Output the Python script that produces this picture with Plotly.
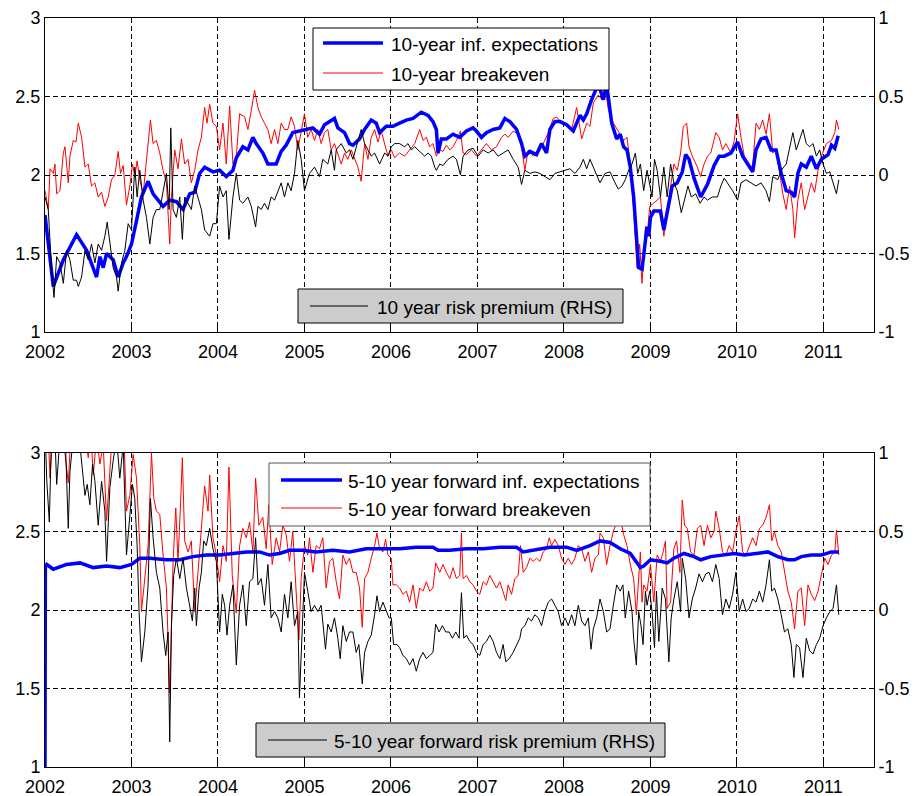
import plotly.graph_objects as go

# ---------------- data (decimal years, values) ----------------
# Top panel: 10-year measures
top_exp_t = [2002.000,2002.096,2002.212,2002.365,2002.481,2002.538,2002.596,2002.635,2002.673,2002.712,2002.788,2002.846,2002.904,2002.942,2003.000,2003.058,2003.115,2003.192,2003.250,2003.365,2003.442,2003.519,2003.596,2003.673,2003.731,2003.788,2003.846,2003.942,2004.019,2004.096,2004.173,2004.212,2004.288,2004.346,2004.404,2004.442,2004.519,2004.577,2004.673,2004.731,2004.788,2004.865,2004.942,2005.000,2005.097,2005.174,2005.232,2005.347,2005.386,2005.463,2005.521,2005.560,2005.637,2005.695,2005.772,2005.830,2005.869,2005.946,2006.023,2006.100,2006.178,2006.255,2006.351,2006.429,2006.486,2006.525,2006.544,2006.583,2006.641,2006.718,2006.795,2006.873,2006.950,2006.988,2007.046,2007.104,2007.181,2007.259,2007.317,2007.375,2007.452,2007.510,2007.548,2007.606,2007.683,2007.741,2007.799,2007.838,2007.896,2007.954,2008.031,2008.108,2008.185,2008.224,2008.263,2008.320,2008.398,2008.456,2008.494,2008.552,2008.610,2008.651,2008.690,2008.729,2008.767,2008.806,2008.845,2008.864,2008.903,2008.922,2008.961,2008.981,2009.000,2009.039,2009.116,2009.155,2009.194,2009.252,2009.310,2009.368,2009.407,2009.446,2009.504,2009.581,2009.659,2009.736,2009.795,2009.853,2009.930,2010.008,2010.066,2010.124,2010.182,2010.221,2010.279,2010.337,2010.395,2010.453,2010.512,2010.570,2010.628,2010.667,2010.705,2010.744,2010.802,2010.860,2010.919,2010.977,2011.054,2011.093,2011.132,2011.171]
top_exp_v = [1.745,1.29,1.46,1.62,1.52,1.44,1.35,1.48,1.41,1.50,1.46,1.35,1.44,1.48,1.56,1.71,1.86,1.96,1.88,1.80,1.84,1.83,1.78,1.88,1.89,2.01,2.05,2.02,2.03,1.99,2.03,2.11,2.18,2.16,2.24,2.20,2.14,2.07,2.07,2.15,2.19,2.27,2.28,2.29,2.30,2.26,2.32,2.36,2.30,2.27,2.20,2.19,2.23,2.29,2.35,2.33,2.27,2.31,2.31,2.33,2.35,2.36,2.40,2.38,2.34,2.29,2.14,2.23,2.23,2.26,2.24,2.28,2.30,2.28,2.24,2.27,2.29,2.30,2.36,2.34,2.29,2.20,2.12,2.15,2.13,2.20,2.14,2.29,2.34,2.34,2.32,2.28,2.38,2.35,2.39,2.48,2.58,2.48,2.58,2.33,2.23,2.26,2.18,2.16,2.05,1.86,1.56,1.41,1.40,1.48,1.67,1.61,1.73,1.77,1.77,1.65,1.76,1.93,1.95,2.02,2.13,2.10,1.98,1.86,1.94,2.06,2.12,2.12,2.14,2.21,2.12,2.07,2.02,2.16,2.23,2.24,2.16,2.16,2.01,1.90,1.89,1.86,2.01,2.07,2.05,2.12,2.04,2.10,2.13,2.19,2.17,2.25]

top_be_t = [2002.000,2002.038,2002.058,2002.096,2002.115,2002.135,2002.173,2002.212,2002.231,2002.269,2002.288,2002.327,2002.358,2002.385,2002.423,2002.462,2002.500,2002.538,2002.577,2002.615,2002.654,2002.692,2002.731,2002.769,2002.808,2002.846,2002.873,2002.904,2002.942,2002.981,2003.012,2003.038,2003.065,2003.096,2003.135,2003.173,2003.219,2003.250,2003.288,2003.327,2003.365,2003.404,2003.442,2003.462,2003.500,2003.538,2003.577,2003.615,2003.654,2003.692,2003.731,2003.769,2003.808,2003.846,2003.873,2003.904,2003.942,2003.981,2004.019,2004.058,2004.096,2004.135,2004.173,2004.212,2004.250,2004.308,2004.346,2004.385,2004.423,2004.462,2004.500,2004.538,2004.577,2004.615,2004.654,2004.692,2004.731,2004.769,2004.808,2004.846,2004.885,2004.923,2004.962,2005.000,2005.038,2005.077,2005.116,2005.154,2005.193,2005.232,2005.270,2005.309,2005.347,2005.386,2005.425,2005.463,2005.502,2005.541,2005.579,2005.618,2005.656,2005.695,2005.734,2005.772,2005.811,2005.849,2005.888,2005.927,2005.965,2006.004,2006.042,2006.100,2006.158,2006.216,2006.274,2006.332,2006.371,2006.409,2006.448,2006.486,2006.525,2006.564,2006.602,2006.641,2006.680,2006.718,2006.757,2006.803,2006.834,2006.873,2006.931,2006.988,2007.046,2007.104,2007.162,2007.220,2007.278,2007.317,2007.355,2007.413,2007.471,2007.510,2007.548,2007.587,2007.645,2007.703,2007.761,2007.819,2007.876,2007.915,2007.973,2008.031,2008.089,2008.147,2008.205,2008.263,2008.301,2008.340,2008.398,2008.436,2008.475,2008.516,2008.574,2008.632,2008.690,2008.729,2008.767,2008.806,2008.845,2008.876,2008.903,2008.942,2008.961,2008.992,2009.039,2009.078,2009.116,2009.155,2009.194,2009.233,2009.271,2009.310,2009.349,2009.380,2009.419,2009.446,2009.484,2009.543,2009.581,2009.620,2009.659,2009.698,2009.756,2009.795,2009.833,2009.872,2009.930,2009.969,2010.008,2010.047,2010.085,2010.143,2010.182,2010.221,2010.260,2010.298,2010.337,2010.376,2010.415,2010.453,2010.492,2010.531,2010.570,2010.609,2010.647,2010.667,2010.705,2010.744,2010.783,2010.822,2010.860,2010.899,2010.938,2010.977,2011.035,2011.093,2011.132,2011.151,2011.178]
top_be_v = [1.90,1.78,2.04,2.01,2.07,1.88,1.90,2.14,2.18,1.95,2.12,2.22,2.21,2.33,2.24,2.05,2.07,1.93,1.95,1.86,1.89,1.80,1.86,1.97,2.00,2.15,2.01,2.06,1.81,1.93,2.07,1.99,2.09,1.97,1.88,2.10,2.35,2.20,2.22,2.14,2.03,1.95,1.56,1.86,2.16,2.04,2.23,2.07,2.10,1.95,2.03,2.16,2.24,2.43,2.33,2.45,2.33,2.31,2.16,2.33,2.07,2.44,2.07,2.12,2.39,2.37,2.29,2.41,2.54,2.43,2.37,2.33,2.29,2.20,2.29,2.20,2.33,2.29,2.29,2.37,2.31,2.16,2.27,2.39,2.24,2.29,2.22,2.29,2.20,2.27,2.29,2.16,2.20,2.14,2.07,2.14,2.10,2.16,2.11,2.05,1.96,2.20,2.10,2.24,2.29,2.21,2.28,2.20,2.12,2.16,2.11,2.14,2.12,2.16,2.20,2.29,2.22,2.24,2.18,2.20,2.12,2.16,2.15,2.19,2.16,2.18,2.22,2.28,2.14,2.13,2.16,2.12,2.16,2.20,2.16,2.18,2.24,2.26,2.24,2.28,2.26,2.18,2.03,2.16,2.12,2.14,2.20,2.27,2.36,2.37,2.33,2.32,2.29,2.43,2.23,2.33,2.31,2.46,2.51,2.48,2.56,2.41,2.33,2.27,2.22,2.24,2.07,1.78,1.41,1.56,1.31,1.67,1.61,1.80,1.82,1.84,1.86,1.61,1.78,1.93,2.07,2.03,2.14,2.31,2.33,2.18,2.12,2.05,1.99,2.07,2.12,2.14,2.27,2.24,2.16,2.20,2.14,2.22,2.39,2.24,2.12,2.07,2.05,2.33,2.29,2.35,2.26,2.39,2.14,2.16,2.03,1.88,1.78,1.93,1.78,1.60,1.84,1.95,1.78,1.86,1.95,1.89,2.03,2.12,2.20,2.22,2.27,2.35,2.29]

top_rp_t = [2002.000,2002.038,2002.077,2002.104,2002.135,2002.173,2002.212,2002.250,2002.288,2002.327,2002.365,2002.385,2002.423,2002.462,2002.500,2002.538,2002.577,2002.615,2002.654,2002.692,2002.719,2002.750,2002.788,2002.827,2002.846,2002.885,2002.923,2002.962,2003.000,2003.038,2003.065,2003.096,2003.135,2003.173,2003.212,2003.250,2003.288,2003.327,2003.365,2003.404,2003.435,2003.454,2003.481,2003.519,2003.558,2003.588,2003.615,2003.654,2003.692,2003.731,2003.769,2003.808,2003.846,2003.904,2003.942,2003.981,2004.019,2004.058,2004.096,2004.127,2004.173,2004.212,2004.250,2004.288,2004.346,2004.385,2004.435,2004.462,2004.500,2004.538,2004.577,2004.615,2004.654,2004.692,2004.731,2004.769,2004.808,2004.846,2004.885,2004.923,2004.962,2005.000,2005.058,2005.116,2005.174,2005.212,2005.270,2005.309,2005.347,2005.367,2005.425,2005.483,2005.521,2005.560,2005.598,2005.656,2005.695,2005.734,2005.772,2005.811,2005.869,2005.927,2005.965,2006.004,2006.042,2006.100,2006.158,2006.197,2006.236,2006.274,2006.313,2006.351,2006.390,2006.429,2006.467,2006.506,2006.525,2006.564,2006.602,2006.660,2006.718,2006.757,2006.803,2006.834,2006.892,2006.950,2007.008,2007.066,2007.124,2007.181,2007.239,2007.297,2007.355,2007.413,2007.471,2007.510,2007.548,2007.606,2007.664,2007.722,2007.780,2007.838,2007.896,2007.954,2008.012,2008.069,2008.127,2008.185,2008.224,2008.263,2008.301,2008.359,2008.417,2008.475,2008.533,2008.591,2008.629,2008.671,2008.709,2008.748,2008.787,2008.826,2008.853,2008.884,2008.922,2008.961,2008.992,2009.019,2009.047,2009.078,2009.116,2009.155,2009.194,2009.233,2009.271,2009.310,2009.357,2009.395,2009.434,2009.473,2009.523,2009.574,2009.620,2009.659,2009.717,2009.775,2009.814,2009.853,2009.911,2009.950,2010.008,2010.047,2010.105,2010.163,2010.221,2010.279,2010.337,2010.376,2010.415,2010.473,2010.512,2010.570,2010.609,2010.647,2010.686,2010.725,2010.764,2010.802,2010.841,2010.880,2010.919,2010.957,2010.996,2011.035,2011.074,2011.112,2011.151,2011.178]
top_rp_v = [-0.14,-0.22,-0.61,-0.78,-0.52,-0.56,-0.69,-0.48,-0.54,-0.67,-0.67,-0.71,-0.65,-0.48,-0.54,-0.44,-0.56,-0.44,-0.48,-0.39,-0.30,-0.44,-0.59,-0.65,-0.74,-0.56,-0.48,-0.31,-0.35,0.05,-0.14,0.03,-0.16,-0.27,-0.44,-0.27,-0.22,-0.22,-0.10,0.01,-0.22,0.30,-0.22,-0.27,-0.14,-0.41,-0.14,-0.18,-0.22,-0.07,-0.14,-0.22,-0.35,-0.39,-0.31,-0.31,-0.07,-0.14,-0.10,-0.41,-0.14,0.01,-0.16,-0.18,-0.14,-0.20,-0.33,-0.20,-0.22,-0.18,-0.22,-0.14,-0.16,-0.10,-0.05,-0.14,-0.05,-0.10,0.01,0.22,0.10,-0.10,0.01,0.05,-0.01,0.10,0.07,0.16,0.03,0.16,0.20,0.14,0.16,0.10,0.18,0.29,0.20,0.16,0.12,0.14,0.07,0.14,0.12,0.18,0.20,0.20,0.18,0.20,0.16,0.18,0.16,0.14,0.12,0.14,0.12,0.05,0.03,0.07,0.06,0.10,0.12,0.10,0.00,0.12,0.16,0.17,0.12,0.16,0.14,0.16,0.12,0.14,0.16,0.10,0.05,-0.06,0.03,0.01,0.02,0.01,-0.01,-0.03,0.01,0.02,0.03,0.04,0.01,0.05,0.10,0.04,0.10,0.03,-0.05,0.01,0.02,-0.05,-0.09,-0.07,-0.03,0.03,0.07,0.14,0.01,0.07,-0.10,0.03,-0.05,-0.14,0.10,0.03,-0.14,0.05,-0.14,0.07,-0.05,-0.10,-0.24,-0.16,-0.07,-0.14,-0.12,-0.18,-0.14,-0.16,-0.14,-0.14,-0.07,-0.02,-0.07,-0.10,-0.16,-0.05,-0.03,-0.05,-0.07,-0.05,-0.10,-0.17,-0.01,-0.03,0.03,0.07,0.18,0.27,0.16,0.23,0.29,0.20,0.18,0.20,0.12,0.16,0.07,0.01,0.02,-0.05,-0.12,-0.03]

# Bottom panel: 5-10 year forward measures
fwd_exp_t = [2002.000,2002.004,2002.019,2002.096,2002.250,2002.404,2002.558,2002.712,2002.865,2003.000,2003.096,2003.212,2003.404,2003.558,2003.712,2003.865,2004.019,2004.173,2004.327,2004.481,2004.596,2004.712,2004.827,2004.981,2005.135,2005.328,2005.521,2005.714,2005.907,2006.100,2006.293,2006.486,2006.544,2006.680,2006.873,2007.066,2007.259,2007.452,2007.529,2007.645,2007.838,2008.031,2008.147,2008.301,2008.417,2008.533,2008.651,2008.767,2008.845,2008.884,2008.922,2009.000,2009.116,2009.194,2009.271,2009.388,2009.504,2009.581,2009.698,2009.814,2009.969,2010.085,2010.240,2010.357,2010.473,2010.589,2010.667,2010.744,2010.860,2010.977,2011.093,2011.178]
fwd_exp_v = [1.00,2.28,2.29,2.26,2.29,2.30,2.27,2.28,2.27,2.29,2.33,2.33,2.32,2.32,2.34,2.35,2.35,2.36,2.37,2.37,2.35,2.36,2.38,2.38,2.37,2.38,2.37,2.39,2.39,2.39,2.40,2.40,2.38,2.38,2.39,2.39,2.40,2.40,2.37,2.38,2.40,2.40,2.38,2.41,2.44,2.43,2.39,2.36,2.30,2.27,2.28,2.32,2.31,2.30,2.33,2.36,2.34,2.32,2.34,2.35,2.36,2.35,2.36,2.37,2.34,2.32,2.32,2.34,2.35,2.35,2.37,2.37]

fwd_be_t = [2002.000,2002.038,2002.058,2002.096,2002.180,2002.269,2002.308,2002.420,2002.500,2002.527,2002.558,2002.596,2002.635,2002.673,2002.712,2002.750,2002.788,2002.904,2002.942,2002.981,2003.019,2003.058,2003.096,2003.115,2003.154,2003.192,2003.231,2003.258,2003.288,2003.327,2003.365,2003.404,2003.442,2003.481,2003.512,2003.538,2003.565,2003.588,2003.615,2003.654,2003.692,2003.731,2003.769,2003.808,2003.846,2003.885,2003.904,2003.942,2003.981,2004.019,2004.058,2004.096,2004.127,2004.165,2004.212,2004.250,2004.288,2004.327,2004.365,2004.404,2004.435,2004.473,2004.519,2004.558,2004.588,2004.627,2004.673,2004.712,2004.750,2004.788,2004.827,2004.865,2004.904,2004.935,2004.962,2005.000,2005.038,2005.058,2005.097,2005.135,2005.174,2005.212,2005.251,2005.290,2005.328,2005.367,2005.405,2005.444,2005.483,2005.521,2005.560,2005.598,2005.637,2005.668,2005.695,2005.734,2005.772,2005.811,2005.838,2005.869,2005.907,2005.938,2005.965,2006.004,2006.023,2006.062,2006.100,2006.139,2006.178,2006.216,2006.255,2006.293,2006.332,2006.371,2006.409,2006.448,2006.486,2006.517,2006.564,2006.602,2006.641,2006.680,2006.718,2006.757,2006.795,2006.815,2006.834,2006.873,2006.911,2006.950,2006.988,2007.027,2007.066,2007.104,2007.143,2007.181,2007.220,2007.259,2007.297,2007.328,2007.355,2007.394,2007.432,2007.471,2007.498,2007.529,2007.568,2007.606,2007.645,2007.683,2007.722,2007.761,2007.799,2007.830,2007.857,2007.896,2007.934,2007.973,2008.012,2008.050,2008.089,2008.127,2008.166,2008.205,2008.243,2008.282,2008.320,2008.359,2008.398,2008.417,2008.456,2008.494,2008.533,2008.571,2008.610,2008.641,2008.690,2008.729,2008.767,2008.806,2008.837,2008.864,2008.884,2008.903,2008.922,2008.961,2009.000,2009.039,2009.078,2009.116,2009.147,2009.174,2009.194,2009.233,2009.271,2009.302,2009.341,2009.368,2009.395,2009.426,2009.465,2009.504,2009.543,2009.581,2009.620,2009.659,2009.698,2009.736,2009.756,2009.795,2009.833,2009.872,2009.911,2009.950,2009.988,2010.027,2010.066,2010.105,2010.143,2010.182,2010.221,2010.260,2010.298,2010.337,2010.376,2010.403,2010.434,2010.473,2010.512,2010.550,2010.589,2010.628,2010.667,2010.705,2010.744,2010.783,2010.822,2010.860,2010.899,2010.938,2010.977,2011.016,2011.054,2011.093,2011.132,2011.151,2011.178]
fwd_be_v = [3.20,3.10,2.84,3.20,3.25,2.81,3.20,3.30,2.97,3.15,2.86,3.10,2.93,3.05,2.57,2.86,3.20,3.25,2.63,2.73,2.99,2.84,2.41,1.99,2.20,2.41,3.00,2.71,2.63,2.61,2.35,2.14,1.47,2.31,2.65,2.31,2.65,2.97,2.44,2.37,2.44,1.99,2.24,2.52,2.79,2.63,2.86,2.46,2.35,2.18,2.41,2.31,2.91,2.22,1.98,2.41,2.52,2.46,2.56,2.37,2.84,2.54,2.59,2.39,2.67,2.29,2.46,2.37,2.54,2.48,2.31,2.50,2.10,1.81,2.20,2.41,2.35,2.46,2.24,2.41,2.39,2.46,2.14,2.31,2.33,2.18,2.07,2.35,2.29,2.33,2.24,2.24,2.14,1.89,2.20,2.24,2.33,2.41,2.49,2.39,2.37,2.45,2.35,2.33,2.16,2.16,2.14,2.10,2.12,2.05,2.16,2.01,2.14,2.12,2.18,2.12,2.14,2.30,2.24,2.29,2.24,2.20,2.27,2.20,2.22,2.49,2.20,2.22,2.18,2.16,2.12,2.10,2.18,2.16,2.22,2.18,2.14,2.18,2.12,2.06,2.16,2.10,2.20,2.22,2.41,2.24,2.27,2.33,2.31,2.33,2.31,2.37,2.39,2.46,2.41,2.45,2.41,2.33,2.29,2.33,2.29,2.33,2.41,2.39,2.31,2.37,2.24,2.33,2.35,2.49,2.46,2.29,2.41,2.50,2.56,2.62,2.48,2.41,2.29,2.20,1.97,2.24,2.37,2.05,2.16,2.12,2.29,2.05,2.35,2.31,2.37,2.44,2.01,2.05,2.39,2.44,2.24,2.70,2.54,2.52,2.37,2.35,2.52,2.54,2.41,2.54,2.46,2.50,2.63,2.52,2.37,2.35,2.41,2.37,2.50,2.60,2.37,2.35,2.41,2.46,2.41,2.52,2.54,2.59,2.67,2.44,2.50,2.41,2.37,2.24,2.12,2.05,1.88,2.12,2.14,1.90,2.16,2.10,2.06,2.12,2.22,2.33,2.29,2.35,2.37,2.51,2.35]

fwd_rp_t = [2002.000,2002.019,2002.050,2002.077,2002.115,2002.135,2002.173,2002.231,2002.269,2002.288,2002.327,2002.404,2002.462,2002.488,2002.519,2002.550,2002.577,2002.615,2002.654,2002.692,2002.712,2002.750,2002.788,2002.827,2002.865,2002.904,2002.942,2002.981,2003.012,2003.038,2003.065,2003.088,2003.115,2003.154,2003.192,2003.219,2003.250,2003.288,2003.327,2003.365,2003.396,2003.423,2003.442,2003.462,2003.488,2003.519,2003.558,2003.596,2003.635,2003.665,2003.704,2003.731,2003.750,2003.781,2003.808,2003.835,2003.865,2003.904,2003.942,2003.981,2004.019,2004.050,2004.077,2004.104,2004.135,2004.173,2004.212,2004.250,2004.288,2004.327,2004.365,2004.404,2004.435,2004.462,2004.500,2004.538,2004.577,2004.615,2004.654,2004.692,2004.731,2004.769,2004.808,2004.846,2004.885,2004.923,2004.942,2004.973,2005.000,2005.038,2005.077,2005.116,2005.154,2005.193,2005.220,2005.243,2005.270,2005.309,2005.347,2005.386,2005.413,2005.444,2005.483,2005.521,2005.560,2005.598,2005.629,2005.668,2005.695,2005.734,2005.772,2005.811,2005.838,2005.869,2005.907,2005.946,2005.977,2006.004,2006.031,2006.069,2006.100,2006.139,2006.178,2006.216,2006.255,2006.293,2006.332,2006.371,2006.409,2006.448,2006.486,2006.517,2006.556,2006.595,2006.633,2006.672,2006.710,2006.749,2006.788,2006.815,2006.842,2006.873,2006.911,2006.950,2006.988,2007.027,2007.066,2007.104,2007.143,2007.181,2007.220,2007.259,2007.297,2007.328,2007.367,2007.413,2007.452,2007.490,2007.510,2007.548,2007.587,2007.625,2007.664,2007.703,2007.741,2007.780,2007.819,2007.857,2007.896,2007.934,2007.973,2008.012,2008.050,2008.089,2008.127,2008.166,2008.205,2008.243,2008.282,2008.313,2008.340,2008.378,2008.417,2008.456,2008.494,2008.533,2008.571,2008.610,2008.651,2008.682,2008.709,2008.748,2008.787,2008.806,2008.837,2008.864,2008.891,2008.915,2008.942,2008.961,2008.992,2009.019,2009.047,2009.070,2009.097,2009.136,2009.174,2009.213,2009.240,2009.271,2009.310,2009.349,2009.368,2009.407,2009.446,2009.484,2009.523,2009.562,2009.601,2009.640,2009.678,2009.717,2009.756,2009.795,2009.833,2009.872,2009.911,2009.950,2009.988,2010.027,2010.066,2010.105,2010.143,2010.182,2010.221,2010.260,2010.298,2010.337,2010.376,2010.403,2010.434,2010.473,2010.512,2010.550,2010.589,2010.628,2010.659,2010.686,2010.725,2010.764,2010.802,2010.841,2010.880,2010.919,2010.957,2010.996,2011.035,2011.074,2011.112,2011.151,2011.178]
fwd_rp_v = [1.20,0.84,0.56,1.15,1.10,0.80,1.10,1.15,0.52,0.88,1.10,1.05,0.73,0.80,0.67,0.93,0.82,0.54,0.82,0.63,0.31,0.78,0.95,1.10,0.84,1.05,0.35,0.63,0.80,0.71,0.41,-0.01,-0.33,-0.14,0.16,0.71,0.46,0.24,0.14,-0.14,-0.29,-0.14,-0.84,-0.10,0.22,0.33,0.20,0.33,0.14,0.05,-0.07,0.14,-0.10,0.14,0.24,0.44,0.41,0.52,0.39,0.31,-0.14,0.10,0.03,-0.16,0.03,0.16,-0.35,0.03,0.16,-0.10,0.18,0.20,0.46,0.16,0.20,0.03,0.29,-0.05,-0.01,-0.05,-0.14,0.10,-0.05,0.18,-0.10,-0.01,-0.56,-0.14,0.24,0.12,-0.01,0.03,-0.01,0.03,-0.12,-0.25,-0.09,-0.14,-0.05,-0.18,-0.31,-0.10,-0.20,-0.14,-0.14,-0.27,-0.22,-0.47,-0.27,-0.20,-0.16,-0.03,0.09,-0.01,0.05,-0.01,-0.05,-0.05,-0.22,-0.22,-0.24,-0.29,-0.31,-0.35,-0.31,-0.39,-0.31,-0.27,-0.31,-0.29,-0.27,-0.09,-0.14,-0.10,-0.14,-0.14,-0.18,-0.14,-0.18,0.11,-0.18,-0.16,-0.20,-0.22,-0.27,-0.29,-0.22,-0.20,-0.16,-0.20,-0.27,-0.31,-0.22,-0.33,-0.31,-0.27,-0.22,-0.18,-0.12,-0.10,-0.05,-0.07,-0.03,-0.05,-0.10,-0.01,0.05,0.07,0.03,-0.01,-0.10,-0.05,-0.10,-0.03,-0.10,0.03,-0.07,-0.10,-0.05,-0.25,-0.12,-0.05,0.07,-0.01,-0.14,-0.12,0.03,0.16,0.12,0.16,-0.05,0.12,-0.01,-0.18,-0.35,-0.01,-0.10,-0.22,0.12,0.03,0.12,-0.01,-0.24,0.12,-0.20,0.14,0.07,-0.33,-0.05,0.07,0.18,-0.01,0.33,0.20,-0.05,0.07,0.14,0.23,0.18,0.23,0.24,0.18,0.29,0.20,-0.03,0.07,0.01,0.10,0.24,-0.01,0.07,-0.01,0.01,0.07,0.05,0.12,0.05,0.16,0.32,0.12,0.14,0.07,-0.03,-0.14,-0.12,-0.22,-0.43,-0.22,-0.24,-0.43,-0.18,-0.26,-0.28,-0.22,-0.18,-0.10,-0.05,-0.01,0.01,0.16,-0.03]

year_ticks = [2002, 2003, 2004, 2005, 2006, 2007, 2008, 2009, 2010, 2011]
left_ticks = [1, 1.5, 2, 2.5, 3]
right_ticks = [-1, -0.5, 0, 0.5, 1]

top_labels = ["10-year inf. expectations", "10-year breakeven", "10 year risk premium (RHS)"]
bot_labels = ["5-10 year forward inf. expectations", "5-10 year forward breakeven",
              "5-10 year forward risk premium (RHS)"]

# ---------------- figure ----------------
W, H = 916, 796
FONT = "Liberation Sans, Arial, Helvetica, sans-serif"
BLUE, RED, BLACK = "#0000ff", "#ff0000", "#000000"

def fx(p):  # pixel -> paper x
    return p / W

def fy(p):  # pixel -> paper y
    return 1 - p / H

fig = go.Figure()

fig.add_trace(go.Scatter(x=top_be_t, y=top_be_v, mode="lines", name=top_labels[1],
                         line=dict(color=RED, width=1), xaxis="x", yaxis="y"))
fig.add_trace(go.Scatter(x=top_exp_t, y=top_exp_v, mode="lines", name=top_labels[0],
                         line=dict(color=BLUE, width=3.5), xaxis="x", yaxis="y"))
fig.add_trace(go.Scatter(x=top_rp_t, y=top_rp_v, mode="lines", name=top_labels[2],
                         line=dict(color=BLACK, width=1), xaxis="x", yaxis="y2"))

fig.add_trace(go.Scatter(x=fwd_be_t, y=fwd_be_v, mode="lines", name=bot_labels[1],
                         line=dict(color=RED, width=1), xaxis="x2", yaxis="y3"))
fig.add_trace(go.Scatter(x=fwd_exp_t, y=fwd_exp_v, mode="lines", name=bot_labels[0],
                         line=dict(color=BLUE, width=3.5), xaxis="x2", yaxis="y3"))
fig.add_trace(go.Scatter(x=fwd_rp_t, y=fwd_rp_v, mode="lines", name=bot_labels[2],
                         line=dict(color=BLACK, width=1), xaxis="x2", yaxis="y4"))

xdom = [fx(45), fx(874)]
top_dom = [fy(332), fy(18)]
bot_dom = [fy(767), fy(453)]
tickfont = dict(family=FONT, size=18, color="black")

def xax(anchor):
    return dict(domain=xdom, anchor=anchor, range=[2002, 2011.585], tickmode="array",
                tickvals=year_ticks, ticktext=[str(t) for t in year_ticks],
                ticks="inside", ticklen=5, tickcolor="black", showline=True,
                linecolor="black", linewidth=1, mirror="ticks", showgrid=True,
                gridcolor="black", gridwidth=1, griddash="5px,3px", zeroline=False,
                tickfont=tickfont, automargin=False, ticklabelstandoff=3)

def yleft(dom, anchor):
    return dict(domain=dom, anchor=anchor, range=[1, 3], tickmode="array",
                tickvals=left_ticks, ticktext=["1", "1.5", "2", "2.5", "3"],
                ticks="inside", ticklen=5, tickcolor="black", showline=True,
                linecolor="black", linewidth=1, showgrid=True, gridcolor="black",
                gridwidth=1, griddash="5px,3px", zeroline=False, tickfont=tickfont,
                automargin=False)

def yright(overlay, anchor):
    return dict(overlaying=overlay, anchor=anchor, side="right", range=[-1, 1],
                tickmode="array", tickvals=right_ticks,
                ticktext=["-1", "-0.5", "0", "0.5", "1"], ticks="inside", ticklen=5,
                tickcolor="black", showline=True, linecolor="black", linewidth=1,
                showgrid=False, zeroline=False, tickfont=tickfont, automargin=False)

fig.update_layout(
    width=W, height=H, autosize=False,
    margin=dict(l=0, r=0, t=0, b=0),
    paper_bgcolor="white", plot_bgcolor="white",
    showlegend=False,
    font=dict(family=FONT, color="black"),
    xaxis=xax("y"), yaxis=yleft(top_dom, "x"), yaxis2=yright("y", "x"),
    xaxis2=xax("y3"), yaxis3=yleft(bot_dom, "x2"), yaxis4=yright("y3", "x2"),
)

# ---------------- legend boxes (drawn as layout items) ----------------
shapes = []
annots = []
LFONT = dict(family=FONT, size=19, color="black")

def box(x0, y0, x1, y1, fill, border):
    shapes.append(dict(type="rect", xref="paper", yref="paper", x0=fx(x0), x1=fx(x1),
                       y0=fy(y1), y1=fy(y0), fillcolor=fill,
                       line=dict(color=border, width=1), layer="above"))

def sample(x0, x1, y, color, width):
    shapes.append(dict(type="line", xref="paper", yref="paper", x0=fx(x0), x1=fx(x1),
                       y0=fy(y), y1=fy(y), line=dict(color=color, width=width),
                       layer="above"))

def label(x, y, text):
    annots.append(dict(xref="paper", yref="paper", x=fx(x), y=fy(y), text=text,
                       xanchor="left", yanchor="middle", showarrow=False, font=LFONT))

# top panel
box(313, 28, 609, 90, "white", "black")
sample(323, 383, 43, BLUE, 3.5)
label(389, 44, top_labels[0])
sample(323, 383, 73, RED, 1)
label(389, 74, top_labels[1])

box(298, 289, 623, 323, "#cccccc", "black")
sample(310, 368, 306, BLACK, 1)
label(375, 307, top_labels[2])

# bottom panel
box(269, 463, 650, 526, "white", "#555555")
sample(281, 342, 480, BLUE, 3.5)
label(346, 481, bot_labels[0])
sample(281, 342, 508, RED, 1)
label(346, 509, bot_labels[1])

box(256, 723, 665, 757, "#cccccc", "black")
sample(268, 327, 740, BLACK, 1)
label(332, 741, bot_labels[2])

fig.update_layout(shapes=shapes, annotations=annots)

fig.write_html("out.html")
